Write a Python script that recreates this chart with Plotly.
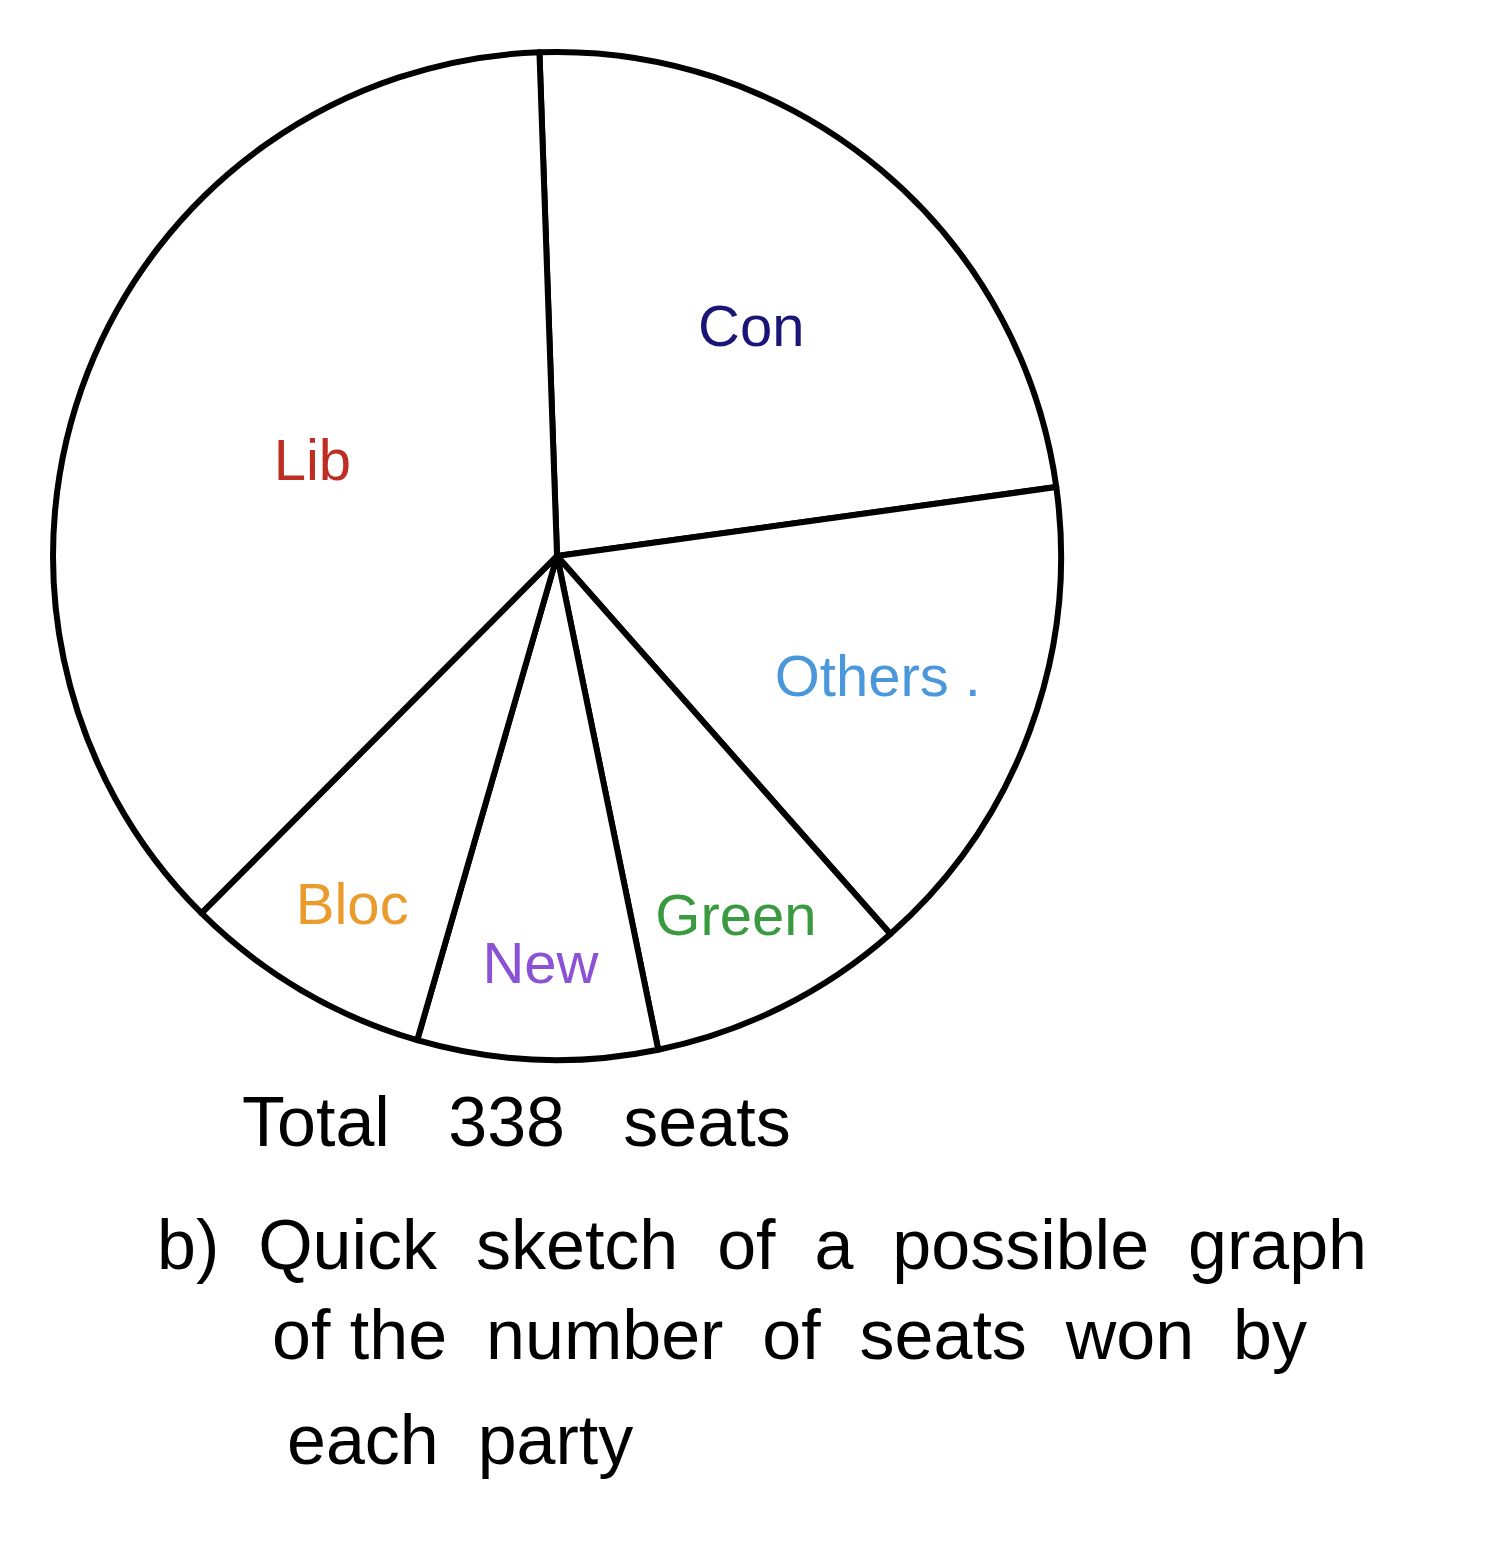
import plotly.graph_objects as go

parties = ["Con", "Others", "Green", "New", "Bloc", "Lib"]
labels_shown = ["Con", "Others .", "Green", "New", "Bloc", "Lib"]
seats = [79, 53, 28, 26, 27, 125]
label_colors = ["#1b1577", "#4a97db", "#3a9a3f", "#8b52d6", "#eb9a2c", "#bd2d22"]
total_seats = 338

fig = go.Figure(go.Pie(
    labels=parties,
    values=seats,
    text=labels_shown,
    textinfo="text",
    textposition="inside",
    insidetextorientation="horizontal",
    textfont=dict(size=58, color=label_colors, family="Liberation Sans"),
    sort=False,
    direction="clockwise",
    rotation=-2,
    marker=dict(colors=["white"] * len(parties), line=dict(color="black", width=6)),
    domain=dict(x=[0.0354, 0.7083], y=[0.3126, 0.9663]),
    showlegend=False,
    hoverinfo="label+value",
))

font_note = dict(size=70, color="black", family="Liberation Sans")
fig.update_layout(
    width=1498, height=1542,
    margin=dict(l=0, r=0, t=0, b=0),
    paper_bgcolor="white", plot_bgcolor="white",
    uniformtext=dict(minsize=56, mode="show"),
    annotations=[
        dict(text=f"Total   {total_seats}   seats", x=240/1498, y=1-1122/1542, xref="paper", yref="paper",
             xanchor="left", yanchor="middle", showarrow=False, font=font_note),
        dict(text="b)  Quick  sketch  of  a  possible  graph", x=155/1498, y=1-1245/1542, xref="paper", yref="paper",
             xanchor="left", yanchor="middle", showarrow=False, font=font_note),
        dict(text="of the  number  of  seats  won  by", x=270/1498, y=1-1335/1542, xref="paper", yref="paper",
             xanchor="left", yanchor="middle", showarrow=False, font=font_note),
        dict(text="each  party", x=285/1498, y=1-1440/1542, xref="paper", yref="paper",
             xanchor="left", yanchor="middle", showarrow=False, font=font_note),
    ],
)

fig.write_html("out.html")
